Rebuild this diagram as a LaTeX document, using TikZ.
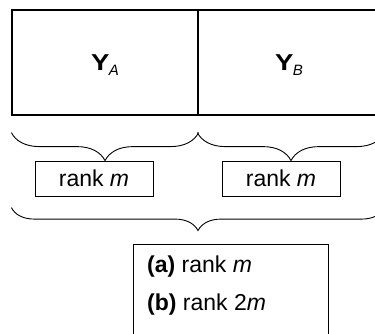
\documentclass[tikz,border=0pt]{standalone}
\usepackage{fontspec}
\setmainfont{Liberation Sans}
\usetikzlibrary{decorations.pathreplacing,calc}
\begin{document}
\begin{tikzpicture}[x=1pt,y=-1pt,
  big/.style={font=\fontsize{23}{26}\selectfont},
  matbox/.style={draw, line width=1.2pt, inner sep=0pt, minimum width=186pt, minimum height=105pt, big},
  rankbox/.style={draw, line width=0.8pt, minimum width=118pt, minimum height=35pt, inner sep=0pt, big},
  resbox/.style={draw, line width=0.8pt, minimum width=195pt, minimum height=120pt, inner sep=0pt, anchor=north west},
  restext/.style={anchor=base west, inner sep=0pt, big},
  symtext/.style={anchor=base, inner sep=0pt, big},
  bracestyle/.style={decorate, line width=0.9pt, decoration={brace, mirror, amplitude=#1}},
]
\useasboundingbox (0,0) rectangle (375,333);
\clip (0,0) rectangle (375,333);
\newcommand{\mysym}[1]{\scalebox{1.2}[1]{\textbf{Y}}\kern-0.5pt\raisebox{-5.7pt}{\fontsize{15}{15}\selectfont\itshape #1}}
\node[matbox] (YA) at (105,62.5) {};
\node[matbox] (YB) at (291,62.5) {};
\node[symtext] (TA) at (105,70) {\mysym{A}};
\node[symtext] (TB) at (289,70) {\mysym{B}};
\node[rankbox] (RA) at (94,178.5) {rank \textit{m}};
\node[rankbox] (RB) at (281,178.5) {rank \textit{m}};
\node[resbox] (RES) at (133,244) {};
\node[restext] (LA) at ($(RES.north west)+(14,28)$) {\textbf{(a)} rank \textit{m}};
\node[restext] (LB) at ($(RES.north west)+(14,66)$) {\textbf{(b)} rank 2\textit{m}};
\coordinate (b1l) at ($(YA.south west)+(0,17)$);
\coordinate (b1r) at ($(YA.south east)+(0,17)$);
\coordinate (b2l) at ($(YB.south west)+(0,17)$);
\coordinate (b2r) at ($(YB.south east)+(0,17)$);
\coordinate (b3l) at ($(YA.south west)+(0,92)$);
\coordinate (b3r) at ($(YB.south east)+(0,92)$);
\draw[bracestyle=28pt] (b1l) -- (b1r);
\draw[bracestyle=28pt] (b2l) -- (b2r);
\draw[bracestyle=23pt] (b3l) -- (b3r);
\end{tikzpicture}
\end{document}
